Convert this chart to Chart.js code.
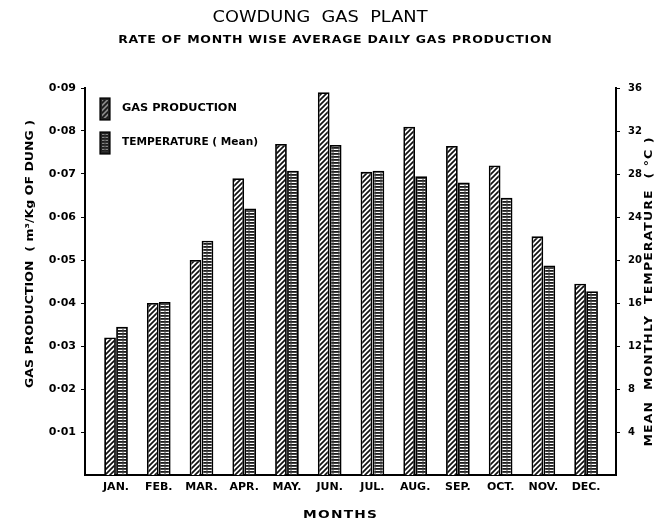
<!DOCTYPE html>
<html>
<head>
<meta charset="utf-8">
<script src="https://cdn.jsdelivr.net/npm/chart.js@4"></script>
<style>
html,body{margin:0;padding:0;background:#fff;}
#wrap{width:670px;height:526px;position:relative;}
</style>
</head>
<body>
<div id="wrap"><canvas id="c" width="670" height="526"></canvas></div>
<script>
const months = ['JAN.','FEB.','MAR.','APR.','MAY.','JUN.','JUL.','AUG.','SEP.','OCT.','NOV.','DEC.'];
const gasProduction = [0.032,0.040,0.050,0.069,0.077,0.089,0.0705,0.081,0.0765,0.072,0.0555,0.0445];
const meanTemperature = [13.8,16.1,21.8,24.8,28.3,30.7,28.3,27.8,27.2,25.8,19.5,17.1];
const gasTicks = [0.01,0.02,0.03,0.04,0.05,0.06,0.07,0.08,0.09];
const tempTicks = [4,8,12,16,20,24,28,32,36];

function makePattern(kind){
  const p = document.createElement('canvas');
  const ctx = p.getContext('2d');
  if(kind==='diag'){
    p.width=5;p.height=5;
    ctx.fillStyle='#fff';ctx.fillRect(0,0,5,5);
    ctx.strokeStyle='#111';ctx.lineWidth=1.7;
    ctx.beginPath();
    ctx.moveTo(-1,6);ctx.lineTo(6,-1);
    ctx.moveTo(-1,1);ctx.lineTo(1,-1);
    ctx.moveTo(4,6);ctx.lineTo(6,4);
    ctx.stroke();
  } else {
    p.width=6;p.height=3;
    ctx.fillStyle='#fff';ctx.fillRect(0,0,6,3);
    ctx.fillStyle='#1a1a1a';ctx.fillRect(0,0,6,1.8);
    ctx.fillStyle='#444';ctx.fillRect(2.5,0,1,3);
  }
  return ctx.createPattern(p,'repeat');
}
const diagPat = makePattern('diag');
const horizPat = makePattern('horiz');

const FONT = "'DejaVu Sans', 'Liberation Sans', sans-serif";

function drawFit(ctx, text, x, y, width, font, rotation){
  ctx.save();
  ctx.translate(x,y);
  ctx.rotate(rotation||0);
  ctx.font = font;
  ctx.fillStyle = '#000';
  ctx.textAlign = 'center';
  ctx.textBaseline = 'middle';
  const hasLS = ('letterSpacing' in ctx);
  if(hasLS) ctx.letterSpacing = '0px';
  const w0 = ctx.measureText(text).width;
  const n = Array.from(text).length;
  if(hasLS){
    const sx = Math.max(0.85, Math.min(width/w0, 1.25));
    ctx.scale(sx,1);
    const sp = (width/sx - w0)/n;
    ctx.letterSpacing = sp.toFixed(2)+'px';
    ctx.translate(sp/2,0);
  } else {
    ctx.scale(width/w0,1);
  }
  ctx.fillText(text,0,0);
  ctx.restore();
}

const textPlugin = {
  id:'textsAndLegend',
  afterDraw(chart){
    const ctx = chart.ctx;
    drawFit(ctx,'COWDUNG  GAS  PLANT',320,18,215,"15px "+FONT,0);
    drawFit(ctx,'RATE OF MONTH WISE AVERAGE DAILY GAS PRODUCTION',335,40,434,"bold 10px "+FONT,0);
    drawFit(ctx,'GAS PRODUCTION  ( m³/Kg OF DUNG )',30,254,268,"bold 10px "+FONT,-Math.PI/2);
    drawFit(ctx,'MEAN  MONTHLY  TEMPERATURE  ( °C )',649,292,310,"bold 10px "+FONT,-Math.PI/2);
    drawFit(ctx,'MONTHS',340,515,75,"bold 11px "+FONT,0);
    const items = [
      {y:98, h:22, ty:108, w:115, label:'GAS PRODUCTION', fill:diagPat},
      {y:132, h:22, ty:142, w:136, label:'TEMPERATURE ( Mean)', fill:horizPat}
    ];
    items.forEach(it=>{
      ctx.save();
      ctx.fillStyle='#222';
      ctx.fillRect(100,it.y,10,it.h);
      ctx.globalAlpha=0.45;
      ctx.fillStyle=it.fill;
      ctx.fillRect(102,it.y+2,6,it.h-4);
      ctx.globalAlpha=1;
      ctx.strokeStyle='#000';ctx.lineWidth=1.2;
      ctx.strokeRect(100,it.y,10,it.h);
      ctx.restore();
      drawFit(ctx,it.label,122+it.w/2,it.ty,it.w,"bold 10px "+FONT,0);
    });
  }
};

new Chart(document.getElementById('c'),{
  type:'bar',
  data:{
    labels:months.map((m,i)=>i),
    datasets:[
      {label:'GAS PRODUCTION',data:gasProduction,yAxisID:'y',backgroundColor:diagPat,borderColor:'#000',borderWidth:1.8,categoryPercentage:0.56,barPercentage:0.98},
      {label:'TEMPERATURE ( Mean)',data:meanTemperature,yAxisID:'y2',backgroundColor:horizPat,borderColor:'#000',borderWidth:1.8,categoryPercentage:0.56,barPercentage:0.98}
    ]
  },
  options:{
    responsive:false,
    animation:false,
    layout:{padding:{top:88,left:0,right:0,bottom:0}},
    plugins:{
      legend:{display:false},
      tooltip:{enabled:false},
      title:{display:false},
      subtitle:{display:false}
    },
    scales:{
      x:{
        type:'linear',
        offset:false,
        min:-0.726,max:11.70,
        grid:{display:false,drawTicks:false,offset:false},
        border:{display:true,color:'#000',width:2},
        afterBuildTicks(s){s.ticks=months.map((m,i)=>({value:i}));},
        ticks:{color:'#000',font:{family:FONT,size:11,weight:'bold'},padding:6,maxRotation:0,autoSkip:false,callback:v=>months[v]},
        afterFit(s){s.height=51;}
      },
      y:{
        position:'left',min:0,max:0.09,
        grid:{display:true,drawOnChartArea:false,drawTicks:true,tickLength:4,color:'#000'},
        border:{display:true,color:'#000',width:2},
        afterBuildTicks(s){s.ticks=gasTicks.map(v=>({value:v}));},
        ticks:{color:'#000',font:{family:FONT,size:11,weight:'bold'},padding:5,callback:v=>v.toFixed(2).replace('.','·')},
        afterFit(s){s.width=85;}
      },
      y2:{
        position:'right',min:0,max:36,
        grid:{display:true,drawOnChartArea:false,drawTicks:true,tickLength:4,color:'#000'},
        border:{display:true,color:'#000',width:2},
        afterBuildTicks(s){s.ticks=tempTicks.map(v=>({value:v}));},
        ticks:{color:'#000',font:{family:FONT,size:10,weight:'bold'},padding:8},
        afterFit(s){s.width=54;}
      }
    }
  },
  plugins:[textPlugin]
});
</script>
</body>
</html>
